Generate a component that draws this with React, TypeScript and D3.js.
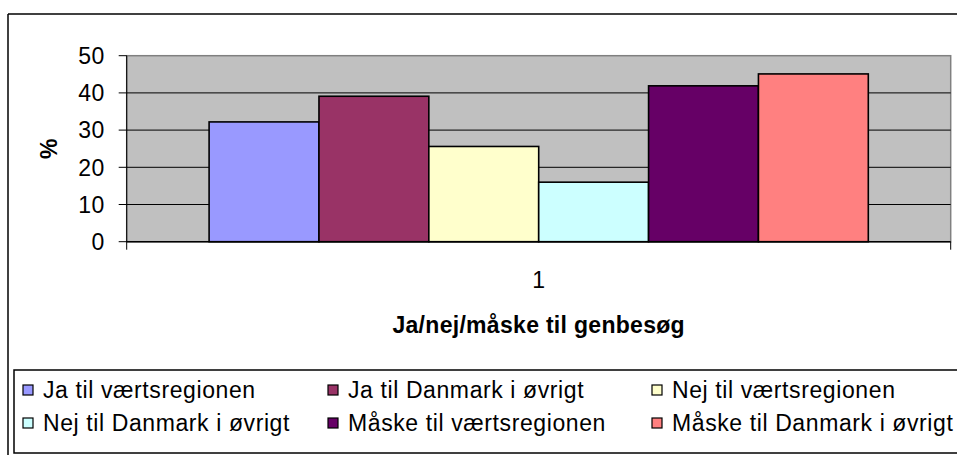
import React from "react";
import * as d3 from "d3";

// category and series
const categories = ["1"];
const seriesNames = [
  "Ja til værtsregionen",
  "Ja til Danmark i øvrigt",
  "Nej til værtsregionen",
  "Nej til Danmark i øvrigt",
  "Måske til værtsregionen",
  "Måske til Danmark i øvrigt",
];
const seriesValues = [32.2, 39.1, 25.6, 16.0, 41.9, 45.1];
const seriesColors = ["#9999FF", "#993366", "#FFFFCC", "#CCFFFF", "#660066", "#FF8080"];
const yTicks = [0, 10, 20, 30, 40, 50];

const W = 957;
const H = 455;
const plot = { left: 126.7, right: 950.7, top: 55.7, bottom: 241.7 };
const FONT = "'Liberation Sans', Arial, sans-serif";

const App = () => {
  const y = d3.scaleLinear().domain([0, 50]).range([plot.bottom, plot.top]);
  // Excel gap width 150% -> 0.75 bar group on each side
  const x0 = d3
    .scaleBand<string>()
    .domain(categories)
    .range([plot.left, plot.right])
    .paddingInner(0)
    .paddingOuter(0.125);
  const x1 = d3
    .scaleBand<string>()
    .domain(seriesNames)
    .range([0, x0.bandwidth()])
    .padding(0);

  // legend layout: 3 columns, 2 rows
  const legendCols = [23, 328, 652];
  const legendRows = [390, 423];

  return (
    <svg
      width={W}
      height={H}
      style={{ position: "absolute", left: 0, top: 0, background: "#fff" }}
      fontFamily={FONT}
    >
      {/* outer chart border (right/bottom are out of frame) */}
      <line x1={8} y1={14} x2={W} y2={14} stroke="#000" strokeWidth={1.5} />
      <line x1={8} y1={14} x2={8} y2={H} stroke="#000" strokeWidth={1.5} />

      {/* plot area */}
      <rect
        x={plot.left}
        y={plot.top}
        width={plot.right - plot.left}
        height={plot.bottom - plot.top}
        fill="#C0C0C0"
        stroke="#808080"
        strokeWidth={1.5}
      />

      {/* gridlines */}
      {yTicks
        .filter((t) => t > 0 && t < 50)
        .map((t) => (
          <line
            key={"g" + t}
            x1={plot.left}
            x2={plot.right}
            y1={y(t)}
            y2={y(t)}
            stroke="#000"
            strokeWidth={1}
          />
        ))}

      {/* bars */}
      {categories.map((c) => (
        <g key={c} transform={`translate(${x0(c)},0)`}>
          {seriesNames.map((s, i) => (
            <rect
              key={s}
              x={x1(s)}
              y={y(seriesValues[i])}
              width={x1.bandwidth()}
              height={y(0) - y(seriesValues[i])}
              fill={seriesColors[i]}
              stroke="#000"
              strokeWidth={1.6}
            />
          ))}
        </g>
      ))}

      {/* y axis */}
      <line x1={plot.left} x2={plot.left} y1={plot.top} y2={plot.bottom + 8} stroke="#000" strokeWidth={1} />
      {yTicks.map((t) => (
        <g key={"t" + t}>
          <line x1={plot.left - 8} x2={plot.left} y1={y(t)} y2={y(t)} stroke="#000" strokeWidth={1} />
          <text
            x={105}
            y={y(t)}
            dy="0.36em"
            textAnchor="end"
            fontSize={23}
            letterSpacing={0.6}
            fill="#000"
          >
            {t}
          </text>
        </g>
      ))}
      <text
        transform={`translate(57,${(plot.top + plot.bottom) / 2}) rotate(-90)`}
        textAnchor="middle"
        fontSize={23}
        fontWeight="bold"
        fill="#000"
      >
        %
      </text>

      {/* x axis */}
      <line x1={plot.left} x2={plot.right} y1={plot.bottom} y2={plot.bottom} stroke="#000" strokeWidth={1.5} />
      <line x1={plot.right} x2={plot.right} y1={plot.bottom} y2={plot.bottom + 8} stroke="#000" strokeWidth={1} />
      {categories.map((c) => (
        <text
          key={"c" + c}
          x={(x0(c) as number) + x0.bandwidth() / 2}
          y={280}
          dy="0.36em"
          textAnchor="middle"
          fontSize={23}
          fill="#000"
        >
          {c}
        </text>
      ))}
      <text
        x={(plot.left + plot.right) / 2}
        y={325}
        dy="0.36em"
        textAnchor="middle"
        fontSize={23}
        fontWeight="bold"
        letterSpacing={0.3}
        fill="#000"
      >
        Ja/nej/måske til genbesøg
      </text>

      {/* legend */}
      <rect x={14} y={370} width={W} height={83} fill="#fff" stroke="#000" strokeWidth={1.5} />
      {seriesNames.map((s, i) => {
        const cx = legendCols[i % 3];
        const cy = legendRows[Math.floor(i / 3)];
        return (
          <g key={"l" + s}>
            <rect x={cx} y={cy - 5} width={10} height={10} fill={seriesColors[i]} stroke="#000" strokeWidth={1.2} />
            <text x={cx + 20} y={cy} dy="0.36em" fontSize={23} letterSpacing={0.6} fill="#000">
              {s}
            </text>
          </g>
        );
      })}
    </svg>
  );
};

export default App;
